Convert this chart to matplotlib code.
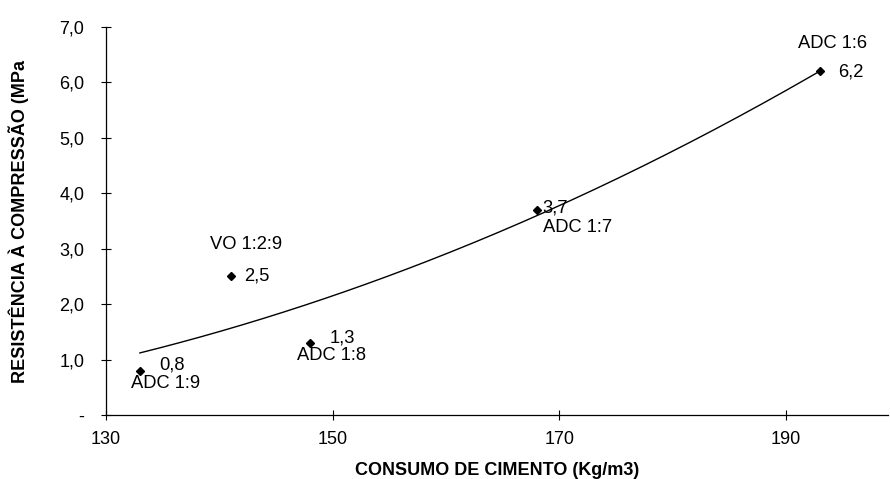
import numpy as np
import matplotlib
matplotlib.use("Agg")
import matplotlib.pyplot as plt

plt.rcParams['font.family'] = ['Liberation Sans', 'DejaVu Sans']

# data
consumo = [133, 141, 148, 168, 193]
resistencia = [0.8, 2.5, 1.3, 3.7, 6.2]
valores = ["0,8", "2,5", "1,3", "3,7", "6,2"]
tracos = ["ADC 1:9", "VO 1:2:9", "ADC 1:8", "ADC 1:7", "ADC 1:6"]
y_ticks = [0, 1, 2, 3, 4, 5, 6, 7]
y_tick_labels = ["-", "1,0", "2,0", "3,0", "4,0", "5,0", "6,0", "7,0"]
x_ticks = [130, 150, 170, 190]

fig = plt.figure(figsize=(8.9, 4.79), dpi=100)
ax = fig.add_axes([0.119, 0.1336, 0.879, 0.81])

# polynomial trendline (2nd order), like the spreadsheet one
coef = np.polyfit(consumo, resistencia, 2)
xs = np.linspace(min(consumo), max(consumo), 200)
ax.plot(xs, np.polyval(coef, xs), color='black', lw=1.0)

ax.plot(consumo, resistencia, linestyle='none', marker='D', ms=4.5, color='black')

# value labels and mix labels, offsets in points
val_off = [(13.7, 4), (10, 0), (14, 3.5), (4.3, 1.5), (13, -0.7)]
mix_off = [(-6.5, -9.6), (-15, 23), (-9.4, -9), (4.3, -12.5), (-16, 20)]
fs = 13.2
for x, y, v, t, vo, mo in zip(consumo, resistencia, valores, tracos, val_off, mix_off):
    ax.annotate(v, (x, y), xytext=vo, textcoords='offset points',
                ha='left', va='center', fontsize=fs)
    ax.annotate(t, (x, y), xytext=mo, textcoords='offset points',
                ha='left', va='center', fontsize=fs)

ax.set_xlim(130, 199)
ax.set_ylim(0, 7)
ax.set_xticks(x_ticks)
ax.set_xticklabels([str(v) for v in x_ticks], fontsize=13)
ax.set_yticks(y_ticks)
ax.set_yticklabels(y_tick_labels, fontsize=13)

for s in ['top', 'right']:
    ax.spines[s].set_visible(False)
for s in ['left', 'bottom']:
    ax.spines[s].set_linewidth(0.9)
ax.tick_params(axis='both', direction='inout', length=7, width=0.8)
ax.tick_params(axis='y', pad=12)
ax.tick_params(axis='x', pad=8)

ax.set_xlabel("CONSUMO DE CIMENTO (Kg/m3)", fontsize=13, fontweight='bold', labelpad=10)
ax.set_ylabel("RESISTÊNCIA À COMPRESSÃO (MPa", fontsize=13, fontweight='bold', labelpad=22)

fig.savefig("out.png", dpi=100)
